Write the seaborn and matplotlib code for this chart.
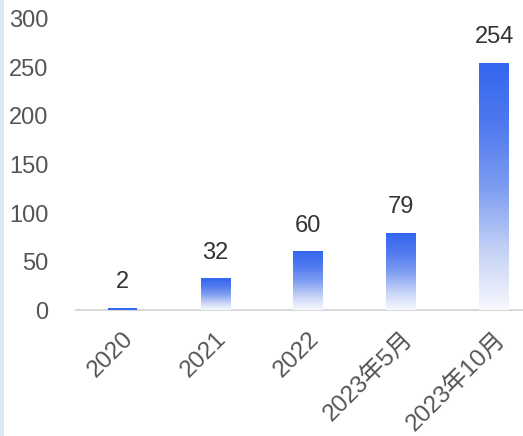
import numpy as np
import pandas as pd
import matplotlib
matplotlib.use("Agg")
import matplotlib.pyplot as plt
import matplotlib.patches as mpatches
from matplotlib.colors import LinearSegmentedColormap
import seaborn as sns

categories = ["2020", "2021", "2022", "2023年5月", "2023年10月"]
values = [2, 32, 60, 79, 254]
yticks = [0, 50, 100, 150, 200, 250, 300]

sns.set_style("white")
plt.rcParams['font.family'] = ['Liberation Sans', 'Noto Sans CJK SC', 'DejaVu Sans']

fig = plt.figure(figsize=(5.23, 4.36), dpi=100)
fig.patches.append(mpatches.Rectangle((0, 0), 4/523, 1, transform=fig.transFigure,
                                      facecolor="#dce7f7", edgecolor="none", zorder=0))
ax = fig.add_axes([76/523, 126/436, 447/523, 291/436])

df = pd.DataFrame({"cat": categories, "val": values})
sns.barplot(data=df, x="cat", y="val", ax=ax, width=0.32, color="#3366ee", saturation=1)

# bottom -> top
cmap = LinearSegmentedColormap.from_list(
    "g", [(0.0, "#f8f9fe"), (0.25, "#c2d0f6"), (0.5, "#7c9cf1"), (0.75, "#5079ef"), (1.0, "#3467ee")])
grad = np.linspace(0, 1, 256).reshape(-1, 1)
for p in ax.patches:
    x0, y0 = p.get_x(), p.get_y()
    w, h = p.get_width(), p.get_height()
    p.set_facecolor("none")
    p.set_edgecolor("none")
    if h < 5:
        ax.add_patch(mpatches.Rectangle((x0, y0), w, h, facecolor="#3467ee", edgecolor="none", zorder=3))
    else:
        ax.imshow(grad, extent=(x0, x0 + w, y0, y0 + h), origin="lower", cmap=cmap,
                  aspect="auto", zorder=3, interpolation="bilinear")
    ax.annotate(f"{values[int(round(x0 + w/2))]}", (x0 + w/2, y0 + h), xytext=(0, 11),
                textcoords="offset points", ha="center", va="bottom",
                fontsize=17, color="#333333")

ax.set_xlim(-0.5, 4.31)
ax.set_ylim(0, 300)
ax.set_yticks(yticks)
ax.set_yticklabels([str(t) for t in yticks])
ax.set_xlabel("")
ax.set_ylabel("")
for s in ["top", "right", "left"]:
    ax.spines[s].set_visible(False)
ax.spines["bottom"].set_color("#d9d9d9")
ax.spines["bottom"].set_linewidth(1.5)
ax.tick_params(axis="y", length=0, pad=20, labelsize=17, labelcolor="#555555")
ax.tick_params(axis="x", length=0, pad=13, labelsize=17.5, labelcolor="#555555")
plt.setp(ax.get_xticklabels(), rotation=45, ha="right", rotation_mode="anchor")

fig.savefig("out.png", dpi=100)
